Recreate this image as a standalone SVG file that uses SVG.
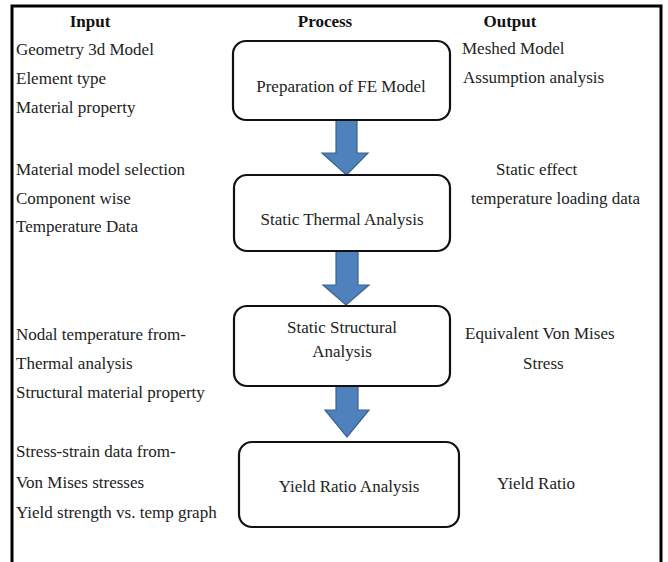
<svg xmlns="http://www.w3.org/2000/svg" width="668" height="562" viewBox="0 0 668 562">
<style>
.t{font-family:'Liberation Serif','DejaVu Serif',serif;font-size:17px;fill:#222}
.h{font-weight:bold;fill:#111}
.c{text-anchor:middle}
.box{fill:#fff;stroke:#111;stroke-width:2.2}
.arr{fill:#4F81BD;stroke:#3A6291;stroke-width:1.2}
</style>
<rect width="668" height="562" fill="#fff"/>
<path d="M12,575 V6 H661 V575" fill="none" stroke="#000" stroke-width="3"/>
<g id="headers" class="t" font-family="Liberation Serif, DejaVu Serif, serif">
<text class="h c" x="90" y="27">Input</text>
<text class="h c" x="325" y="27">Process</text>
<text class="h c" x="510" y="27">Output</text>
</g>
<g id="connectors">
<path class="arr" d="M336,120 H357 V153 H368 L346.5,175 L322,153 H336 Z"/>
<path class="arr" d="M336,251 H358 V285 H369 L346,305 L323,285 H336 Z"/>
<path class="arr" d="M336,386 H358 V410 H369 L347,437 L325,410 H336 Z"/>
</g>
<g id="n1" class="t" font-family="Liberation Serif, DejaVu Serif, serif">
<rect class="box" x="233" y="41" width="217" height="79" rx="13"/>
<text class="c" x="341" y="92">Preparation of FE Model</text>
</g>
<g id="n2" class="t" font-family="Liberation Serif, DejaVu Serif, serif">
<rect class="box" x="234" y="175" width="216" height="76" rx="13"/>
<text class="c" x="342" y="225">Static Thermal Analysis</text>
</g>
<g id="n3" class="t" font-family="Liberation Serif, DejaVu Serif, serif">
<rect class="box" x="234" y="306" width="216" height="80" rx="13"/>
<text class="c" x="342" y="333">Static Structural</text>
<text class="c" x="342" y="357">Analysis</text>
</g>
<g id="n4" class="t" font-family="Liberation Serif, DejaVu Serif, serif">
<rect class="box" x="239" y="442" width="220" height="85" rx="13"/>
<text class="c" x="349" y="492">Yield Ratio Analysis</text>
</g>
<g id="inputs" class="t" font-family="Liberation Serif, DejaVu Serif, serif">
<text x="16" y="55">Geometry 3d Model</text>
<text x="16" y="84">Element type</text>
<text x="16" y="113">Material property</text>
<text x="16" y="175">Material model selection</text>
<text x="16" y="204">Component wise</text>
<text x="16" y="232">Temperature Data</text>
<text x="16" y="340">Nodal temperature from-</text>
<text x="16" y="369">Thermal analysis</text>
<text x="16" y="398">Structural material property</text>
<text x="16" y="457">Stress-strain data from-</text>
<text x="16" y="488">Von Mises stresses</text>
<text x="16" y="518">Yield strength vs. temp graph</text>
</g>
<g id="outputs" class="t" font-family="Liberation Serif, DejaVu Serif, serif">
<text x="462" y="54">Meshed Model</text>
<text x="463" y="83">Assumption analysis</text>
<text x="496" y="175">Static effect</text>
<text x="471" y="204">temperature loading data</text>
<text x="465" y="339">Equivalent Von Mises</text>
<text x="523" y="369">Stress</text>
<text x="497" y="489">Yield Ratio</text>
</g>
</svg>
